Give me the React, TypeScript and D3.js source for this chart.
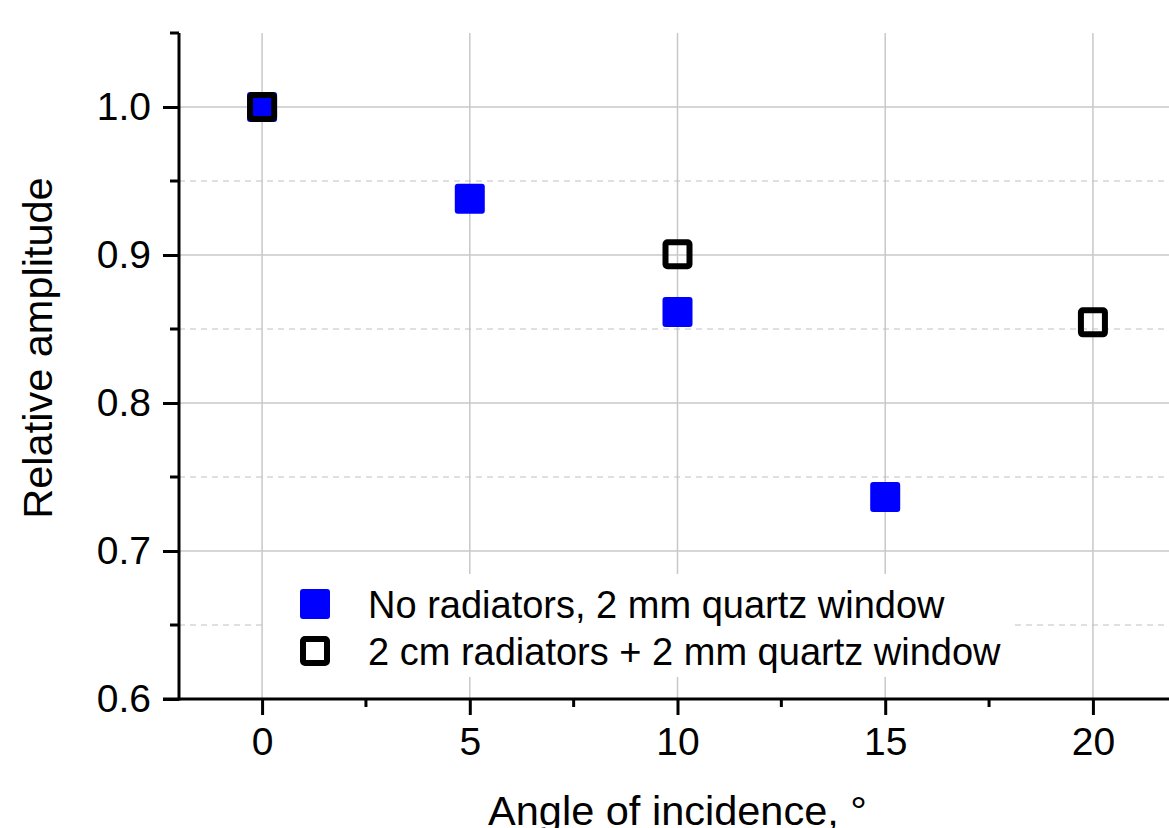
import { useEffect, useRef } from 'react'
import * as d3 from 'd3'

// Data
const noRadAngles = [0, 5, 10, 15]
const noRadValues = [1.0, 0.938, 0.8615, 0.7365]
const radAngles = [0, 10, 20]
const radValues = [1.0, 0.9005, 0.8545]

const xMajorTicks = [0, 5, 10, 15, 20]
const xMinorTicks = [2.5, 7.5, 12.5, 17.5]
const yMajorTicks = [0.6, 0.7, 0.8, 0.9, 1.0]
const yMinorTicks = [0.65, 0.75, 0.85, 0.95, 1.05]

const legendLabels = ['No radiators, 2 mm quartz window', '2 cm radiators + 2 mm quartz window']

const WIDTH = 1169
const HEIGHT = 828
const FONT = '"Liberation Sans", Arial, sans-serif'

export default function App() {
  const svgRef = useRef<SVGSVGElement>(null)

  useEffect(() => {
    if (!svgRef.current) return
    const svg = d3.select(svgRef.current)
    svg.selectAll('*').remove()

    const left = 179
    const bottom = 699
    const top = 33
    const right = 1176

    const x = d3.scaleLinear().domain([-2, 22]).range([left, right])
    const y = d3.scaleLinear().domain([0.6, 1.05]).range([bottom, top])

    const grid = svg.append('g')

    // vertical grid
    grid
      .selectAll('line.vg')
      .data(xMajorTicks)
      .join('line')
      .attr('x1', (d) => x(d))
      .attr('x2', (d) => x(d))
      .attr('y1', top)
      .attr('y2', bottom)
      .attr('stroke', '#c8c8c8')
      .attr('stroke-width', 1.5)

    // horizontal major grid
    grid
      .selectAll('line.hg')
      .data(yMajorTicks.filter((d) => d > 0.6))
      .join('line')
      .attr('x1', left)
      .attr('x2', right)
      .attr('y1', (d) => y(d))
      .attr('y2', (d) => y(d))
      .attr('stroke', '#c8c8c8')
      .attr('stroke-width', 1.5)

    // horizontal minor grid (dashed)
    grid
      .selectAll('line.hm')
      .data(yMinorTicks.filter((d) => d < 1.05))
      .join('line')
      .attr('x1', left)
      .attr('x2', right)
      .attr('y1', (d) => y(d))
      .attr('y2', (d) => y(d))
      .attr('stroke', '#c0c0c0')
      .attr('stroke-width', 1)
      .attr('stroke-dasharray', '6,5')

    // Legend background (covers grid)
    svg
      .append('rect')
      .attr('x', 266)
      .attr('y', 574)
      .attr('width', 744)
      .attr('height', 103)
      .attr('fill', 'white')

    // Axes
    const xAxis = svg.append('g').attr('transform', `translate(0,${bottom})`)
    xAxis
      .call(d3.axisBottom(x).tickValues(xMajorTicks).tickSize(16).tickPadding(12).tickFormat(d3.format('d')))
      .call((g) => g.select('.domain').remove())
    xAxis
      .append('line')
      .attr('x1', 163)
      .attr('x2', WIDTH)
      .attr('stroke', 'black')
      .attr('stroke-width', 3)
    xAxis
      .selectAll('line.minor')
      .data(xMinorTicks)
      .join('line')
      .attr('class', 'minor')
      .attr('x1', (d) => x(d))
      .attr('x2', (d) => x(d))
      .attr('y1', 0)
      .attr('y2', 8)
      .attr('stroke', 'black')
      .attr('stroke-width', 3)

    const yAxis = svg.append('g').attr('transform', `translate(${left},0)`)
    yAxis
      .call(d3.axisLeft(y).tickValues(yMajorTicks).tickSize(16).tickPadding(12).tickFormat(d3.format('.1f')))
      .call((g) => g.select('.domain').remove())
    yAxis
      .append('line')
      .attr('y1', top)
      .attr('y2', bottom + 1.5)
      .attr('stroke', 'black')
      .attr('stroke-width', 3)
    yAxis
      .selectAll('line.minor')
      .data(yMinorTicks)
      .join('line')
      .attr('class', 'minor')
      .attr('x1', -9)
      .attr('x2', 0)
      .attr('y1', (d) => y(d))
      .attr('y2', (d) => y(d))
      .attr('stroke', 'black')
      .attr('stroke-width', 3)

    svg.selectAll('.tick line').attr('stroke', 'black').attr('stroke-width', 3)
    svg
      .selectAll('.tick text')
      .attr('fill', 'black')
      .attr('font-family', FONT)
      .attr('font-size', 39)

    // Axis titles
    svg
      .append('text')
      .attr('x', x(10))
      .attr('y', 825)
      .attr('text-anchor', 'middle')
      .attr('font-family', FONT)
      .attr('font-size', 41.5)
      .attr('fill', 'black')
      .text('Angle of incidence, °')

    svg
      .append('text')
      .attr('transform', `translate(52,${348}) rotate(-90)`)
      .attr('text-anchor', 'middle')
      .attr('font-family', FONT)
      .attr('font-size', 41.5)
      .attr('fill', 'black')
      .text('Relative amplitude')

    // Data markers
    const size = 30
    svg
      .append('g')
      .selectAll('rect')
      .data(noRadAngles.map((a, i) => [a, noRadValues[i]]))
      .join('rect')
      .attr('x', (d) => x(d[0]) - size / 2)
      .attr('y', (d) => y(d[1]) - size / 2)
      .attr('width', size)
      .attr('height', size)
      .attr('rx', 3)
      .attr('fill', '#0000ff')

    svg
      .append('g')
      .selectAll('rect')
      .data(radAngles.map((a, i) => [a, radValues[i]]))
      .join('rect')
      .attr('x', (d) => x(d[0]) - (size - 6) / 2)
      .attr('y', (d) => y(d[1]) - (size - 6) / 2)
      .attr('width', size - 6)
      .attr('height', size - 6)
      .attr('rx', 2)
      .attr('fill', 'none')
      .attr('stroke', 'black')
      .attr('stroke-width', 6)

    // Legend entries
    const legend = svg.append('g')
    const rowY = [604, 651]
    legend
      .append('rect')
      .attr('x', 300)
      .attr('y', rowY[0] - 15)
      .attr('width', 30)
      .attr('height', 30)
      .attr('rx', 3)
      .attr('fill', '#0000ff')
    legend
      .append('rect')
      .attr('x', 303)
      .attr('y', rowY[1] - 12)
      .attr('width', 24)
      .attr('height', 24)
      .attr('rx', 2)
      .attr('fill', 'white')
      .attr('stroke', 'black')
      .attr('stroke-width', 6)
    legend
      .selectAll('text')
      .data(legendLabels)
      .join('text')
      .attr('x', 368)
      .attr('y', (_, i) => rowY[i] + 14)
      .attr('font-family', FONT)
      .attr('font-size', 38)
      .attr('fill', 'black')
      .text((d) => d)
  }, [])

  return (
    <div style={{ position: 'absolute', left: 0, top: 0, width: WIDTH, height: HEIGHT, background: 'white' }}>
      <svg ref={svgRef} width={WIDTH} height={HEIGHT} style={{ display: 'block' }} />
    </div>
  )
}
